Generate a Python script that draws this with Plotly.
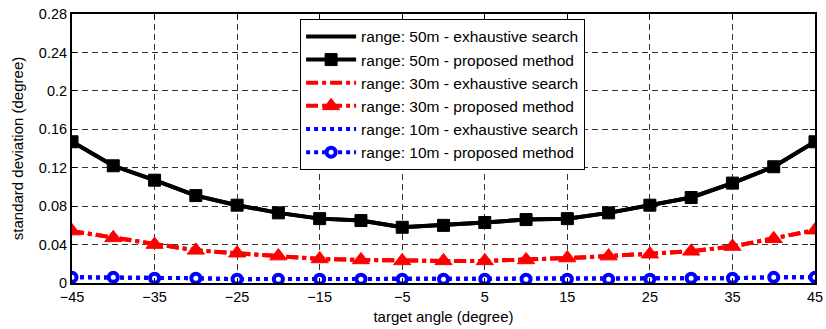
import plotly.graph_objects as go

angles = [-45, -40, -35, -30, -25, -20, -15, -10, -5, 0, 5, 10, 15, 20, 25, 30, 35, 40, 45]

r50_exhaustive = [0.147, 0.122, 0.107, 0.091, 0.081, 0.073, 0.067, 0.065, 0.058, 0.060, 0.063, 0.066, 0.067, 0.073, 0.081, 0.089, 0.104, 0.121, 0.147]
r50_proposed   = [0.147, 0.122, 0.107, 0.091, 0.081, 0.073, 0.067, 0.065, 0.058, 0.060, 0.063, 0.066, 0.067, 0.073, 0.081, 0.089, 0.104, 0.121, 0.147]
r30_exhaustive = [0.054, 0.047, 0.040, 0.034, 0.031, 0.028, 0.025, 0.024, 0.023, 0.023, 0.023, 0.024, 0.026, 0.028, 0.030, 0.033, 0.038, 0.046, 0.055]
r30_proposed   = [0.054, 0.047, 0.040, 0.034, 0.031, 0.028, 0.025, 0.024, 0.023, 0.023, 0.023, 0.024, 0.026, 0.028, 0.030, 0.033, 0.038, 0.046, 0.055]
r10_exhaustive = [0.006, 0.006, 0.005, 0.005, 0.004, 0.004, 0.004, 0.004, 0.004, 0.004, 0.004, 0.004, 0.004, 0.004, 0.004, 0.005, 0.005, 0.006, 0.006]
r10_proposed   = [0.006, 0.006, 0.005, 0.005, 0.004, 0.004, 0.004, 0.004, 0.004, 0.004, 0.004, 0.004, 0.004, 0.004, 0.004, 0.005, 0.005, 0.006, 0.006]

x_ticks = [-45, -35, -25, -15, -5, 5, 15, 25, 35, 45]
y_ticks = [0, 0.04, 0.08, 0.12, 0.16, 0.2, 0.24, 0.28]
y_tick_labels = ["0", "0.04", "0.08", "0.12", "0.16", "0.2", "0.24", "0.28"]

names = [
    "range: 50m - exhaustive search",
    "range: 50m - proposed method",
    "range: 30m - exhaustive search",
    "range: 30m - proposed method",
    "range: 10m - exhaustive search",
    "range: 10m - proposed method",
]

FONT = "Liberation Sans, Arial, sans-serif"

fig = go.Figure()

fig.add_trace(go.Scatter(x=angles, y=r50_exhaustive, name=names[0], mode="lines",
                         line=dict(color="black", width=4)))
fig.add_trace(go.Scatter(x=angles, y=r50_proposed, name=names[1], mode="lines+markers",
                         line=dict(color="black", width=4),
                         marker=dict(symbol="square", size=12, color="black",
                                     line=dict(color="black", width=1))))
fig.add_trace(go.Scatter(x=angles, y=r30_exhaustive, name=names[2], mode="lines",
                         line=dict(color="red", width=4, dash="dashdot")))
fig.add_trace(go.Scatter(x=angles, y=r30_proposed, name=names[3], mode="lines+markers",
                         line=dict(color="red", width=4, dash="dashdot"),
                         marker=dict(symbol="triangle-up", size=15, color="red",
                                     line=dict(color="red", width=1))))
fig.add_trace(go.Scatter(x=angles, y=r10_exhaustive, name=names[4], mode="lines",
                         line=dict(color="blue", width=4, dash="dot")))
fig.add_trace(go.Scatter(x=angles, y=r10_proposed, name=names[5], mode="lines+markers",
                         line=dict(color="blue", width=4, dash="dot"),
                         marker=dict(symbol="circle", size=9, color="white",
                                     line=dict(color="blue", width=4))))

axis_common = dict(
    showline=True, linecolor="black", linewidth=2, mirror="ticks",
    ticks="inside", ticklen=5, tickcolor="black", tickwidth=1,
    showgrid=True, gridcolor="#333333", gridwidth=1, griddash="6px,4px",
    zeroline=False, automargin=False, ticklabeloverflow="allow",
    tickfont=dict(family=FONT, size=14.5, color="black"),
)

fig.update_xaxes(range=[-45, 45], tickvals=x_ticks,
                 title=dict(text="target angle (degree)", font=dict(family=FONT, size=15, color="black"),
                            standoff=7),
                 **axis_common)
fig.update_yaxes(range=[0, 0.28], tickvals=y_ticks, ticktext=y_tick_labels,
                 title=dict(text="standard deviation (degree)", font=dict(family=FONT, size=15, color="black"),
                            standoff=12),
                 **axis_common)

fig.update_layout(
    width=826, height=329,
    margin=dict(l=72, r=11, t=14, b=46),
    paper_bgcolor="white", plot_bgcolor="white",
    font=dict(family=FONT, color="black"),
    legend=dict(x=0.307, y=0.982, xanchor="left", yanchor="top",
                bgcolor="white", bordercolor="black", borderwidth=1,
                itemwidth=50,
                font=dict(family=FONT, size=15.5, color="black")),
    showlegend=True,
)

# remove the page's default body margin so the figure sits at the window origin
fig.write_html("out.html", config={"displayModeBar": False},
               post_script="document.body.style.margin='0';")
